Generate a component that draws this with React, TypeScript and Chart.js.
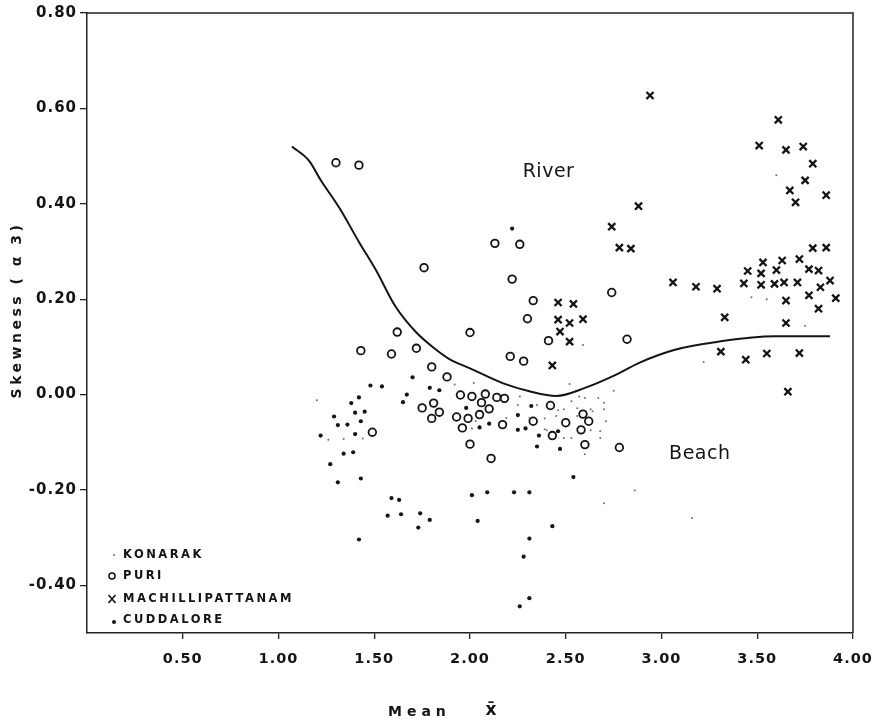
import React, { useEffect, useRef } from "react";
import { Chart, registerables } from "chart.js";

Chart.register(...registerables);

// ---------- data ----------
const xTickValues = [0.5, 1.0, 1.5, 2.0, 2.5, 3.0, 3.5, 4.0];
const yTickValues = [-0.4, -0.2, 0.0, 0.2, 0.4, 0.6, 0.8];

const konarak: [number, number][] = [
  [1.20, -0.012], [1.26, -0.095], [1.34, -0.093], [1.44, -0.092], [1.92, 0.021],
  [2.02, 0.024], [2.52, 0.022], [2.70, -0.017], [2.70, -0.031], [2.71, -0.056],
  [2.68, -0.077], [2.68, -0.091], [2.53, -0.091], [2.49, -0.091], [2.60, -0.125],
  [2.70, -0.228], [2.01, -0.071], [2.19, -0.049], [2.26, -0.004], [2.31, -0.049],
  [2.39, -0.073], [2.49, -0.031], [2.46, -0.033], [2.56, -0.045], [2.64, -0.035],
  [2.67, -0.007], [2.57, -0.004], [2.60, -0.007], [2.53, -0.014], [2.86, -0.201],
  [2.75, 0.008], [2.56, -0.029], [2.63, -0.031], [2.39, -0.050], [2.45, -0.045],
  [2.40, -0.075], [2.63, -0.075], [3.60, 0.460], [3.47, 0.204], [3.55, 0.200],
  [3.75, 0.144], [3.22, 0.068], [2.59, 0.104], [3.16, -0.259], [2.03, -0.056],
  [2.25, -0.022], [2.35, -0.022],
];

const puri: [number, number][] = [
  [1.30, 0.486], [1.42, 0.481], [2.13, 0.317], [2.26, 0.315], [1.76, 0.266],
  [2.22, 0.242], [2.33, 0.197], [2.30, 0.159], [2.41, 0.113], [1.62, 0.131],
  [2.00, 0.130], [1.43, 0.092], [1.59, 0.085], [1.72, 0.097], [1.80, 0.058],
  [2.21, 0.080], [2.28, 0.070], [2.74, 0.214], [2.82, 0.116], [1.88, 0.037],
  [1.95, -0.001], [2.01, -0.004], [2.08, 0.001], [2.14, -0.006], [2.18, -0.008],
  [1.75, -0.028], [1.81, -0.018], [1.84, -0.037], [1.80, -0.050], [1.93, -0.047],
  [1.99, -0.050], [1.96, -0.070], [2.06, -0.017], [2.10, -0.030], [2.05, -0.042],
  [2.17, -0.063], [2.00, -0.104], [2.11, -0.134], [2.42, -0.023], [2.33, -0.056],
  [2.50, -0.059], [2.43, -0.086], [1.49, -0.079], [2.59, -0.041], [2.62, -0.056],
  [2.58, -0.074], [2.60, -0.105], [2.78, -0.111],
];

const machillipattanam: [number, number][] = [
  [2.94, 0.627], [3.61, 0.576], [3.51, 0.522], [3.65, 0.513], [3.74, 0.520],
  [3.79, 0.484], [3.75, 0.449], [3.67, 0.428], [3.70, 0.403], [3.86, 0.418],
  [2.88, 0.395], [2.74, 0.352], [2.78, 0.308], [2.84, 0.306], [3.06, 0.235],
  [3.18, 0.226], [3.29, 0.222], [3.33, 0.162], [2.46, 0.193], [2.54, 0.190],
  [2.46, 0.157], [2.52, 0.150], [2.59, 0.158], [2.47, 0.132], [2.52, 0.111],
  [2.43, 0.061], [3.79, 0.307], [3.86, 0.308], [3.53, 0.277], [3.63, 0.281],
  [3.72, 0.284], [3.45, 0.259], [3.52, 0.254], [3.60, 0.261], [3.77, 0.263],
  [3.82, 0.260], [3.43, 0.233], [3.52, 0.230], [3.59, 0.232], [3.64, 0.235],
  [3.71, 0.235], [3.88, 0.239], [3.83, 0.225], [3.77, 0.208], [3.91, 0.202],
  [3.65, 0.197], [3.82, 0.180], [3.65, 0.150], [3.31, 0.090], [3.44, 0.073],
  [3.55, 0.086], [3.72, 0.087], [3.66, 0.006],
];

const cuddalore: [number, number][] = [
  [2.22, 0.348], [1.70, 0.036], [1.48, 0.019], [1.54, 0.017], [1.67, 0.000],
  [1.65, -0.016], [1.79, 0.014], [1.84, 0.009], [1.42, -0.006], [1.38, -0.018],
  [1.40, -0.038], [1.45, -0.036], [1.29, -0.046], [1.31, -0.064], [1.36, -0.063],
  [1.43, -0.056], [1.40, -0.083], [1.22, -0.086], [1.34, -0.124], [1.39, -0.121],
  [1.27, -0.146], [1.31, -0.184], [1.43, -0.176], [1.59, -0.217], [1.63, -0.221],
  [1.57, -0.254], [1.64, -0.251], [1.74, -0.249], [1.79, -0.263], [1.73, -0.279],
  [1.42, -0.304], [2.10, -0.061], [2.05, -0.069], [2.25, -0.043], [2.25, -0.074],
  [2.29, -0.071], [2.32, -0.024], [2.36, -0.086], [2.35, -0.109], [2.46, -0.077],
  [2.47, -0.114], [2.54, -0.173], [2.01, -0.211], [2.09, -0.205], [2.23, -0.205],
  [2.31, -0.205], [2.04, -0.265], [2.43, -0.276], [2.31, -0.302], [2.28, -0.340],
  [2.31, -0.427], [2.26, -0.444], [1.98, -0.028],
];

const boundaryCurve: [number, number][] = [
  [1.07, 0.52], [1.16, 0.49], [1.22, 0.45], [1.32, 0.39], [1.42, 0.32],
  [1.51, 0.26], [1.61, 0.185], [1.72, 0.13], [1.82, 0.095], [1.89, 0.075],
  [2.00, 0.055], [2.17, 0.024], [2.31, 0.007], [2.45, -0.003], [2.60, 0.014],
  [2.78, 0.045], [2.88, 0.066], [3.07, 0.094], [3.30, 0.111], [3.59, 0.122],
  [3.88, 0.122],
];

const legendLabels = ["KONARAK", "PURI", "MACHILLIPATTANAM", "CUDDALORE"];
const regionLabels: { text: string; x: number; y: number }[] = [
  { text: "River", x: 2.41, y: 0.466 },
  { text: "Beach", x: 3.2, y: -0.125 },
];
const xTitle = "Mean";
const xBarSymbol = "x\u0304";
const yTitle = "Skewness ( \u03b1 3)";

const FONT = '"DejaVu Sans", sans-serif';
const INK = "#141414";

const toPts = (arr: [number, number][]) => arr.map(([x, y]) => ({ x, y }));

const decor = {
  id: "decor",
  beforeDraw(chart: any) {
    chart.ctx.letterSpacing = "1px";
  },
  afterDraw(chart: any) {
    const { ctx, chartArea: a, scales } = chart;
    ctx.save();
    // top & right frame lines
    ctx.strokeStyle = "#222";
    ctx.lineWidth = 1.5;
    ctx.beginPath();
    ctx.moveTo(a.left, a.top);
    ctx.lineTo(a.right, a.top);
    ctx.lineTo(a.right, a.bottom);
    ctx.stroke();

    // region labels
    ctx.fillStyle = INK;
    ctx.letterSpacing = "0.5px";
    ctx.font = `19px ${FONT}`;
    ctx.textAlign = "center";
    ctx.textBaseline = "middle";
    for (const r of regionLabels) {
      ctx.fillText(r.text, scales.x.getPixelForValue(r.x), scales.y.getPixelForValue(r.y));
    }

    // y title
    ctx.save();
    ctx.translate(17, 310);
    ctx.rotate(-Math.PI / 2);
    ctx.font = `bold 14px ${FONT}`;
    ctx.letterSpacing = "3.5px";
    ctx.textAlign = "center";
    ctx.fillText(yTitle, 0, 0);
    ctx.restore();

    // x title
    ctx.font = `bold 14px ${FONT}`;
    ctx.letterSpacing = "5px";
    ctx.textAlign = "left";
    ctx.fillText(xTitle, 388, 712);
    ctx.letterSpacing = "0px";
    ctx.font = `bold 17px ${FONT}`;
    ctx.textAlign = "center";
    ctx.fillText(xBarSymbol, 491, 711);

    // legend
    const rows = [555, 576, 599, 620];
    const symX = a.left + 25;
    const txtX = a.left + 36;
    ctx.font = `bold 11.5px ${FONT}`;
    ctx.letterSpacing = "2.5px";
    ctx.textAlign = "left";
    legendLabels.forEach((lab, i) => {
      const y = rows[i];
      ctx.fillText(lab, txtX, y);
      ctx.beginPath();
      if (i === 0) {
        ctx.fillStyle = "#666";
        ctx.arc(symX + 2, y, 1, 0, Math.PI * 2);
        ctx.fill();
        ctx.fillStyle = INK;
      } else if (i === 1) {
        ctx.strokeStyle = INK;
        ctx.lineWidth = 1.5;
        ctx.arc(symX, y, 3, 0, Math.PI * 2);
        ctx.stroke();
      } else if (i === 2) {
        ctx.strokeStyle = INK;
        ctx.lineWidth = 1.6;
        ctx.moveTo(symX - 3.5, y - 4);
        ctx.lineTo(symX + 3.5, y + 4);
        ctx.moveTo(symX + 3.5, y - 4);
        ctx.lineTo(symX - 3.5, y + 4);
        ctx.stroke();
      } else {
        ctx.arc(symX + 2, y + 2, 2, 0, Math.PI * 2);
        ctx.fill();
      }
    });
    ctx.restore();
  },
};

export default function App() {
  const ref = useRef<HTMLCanvasElement | null>(null);

  useEffect(() => {
    if (!ref.current) return;
    const chart = new Chart(ref.current, {
      type: "scatter",
      data: {
        datasets: [
          {
            label: "KONARAK",
            data: toPts(konarak),
            pointStyle: "circle",
            pointRadius: 1,
            pointBackgroundColor: "#707070",
            pointBorderWidth: 0,
          },
          {
            label: "Boundary",
            data: toPts(boundaryCurve),
            showLine: true,
            borderColor: INK,
            borderWidth: 2,
            pointRadius: 0,
            cubicInterpolationMode: "monotone",
          },
          {
            label: "PURI",
            data: toPts(puri),
            pointStyle: "circle",
            pointRadius: 3.8,
            pointBackgroundColor: "rgba(0,0,0,0)",
            pointBorderColor: INK,
            pointBorderWidth: 1.8,
          },
          {
            label: "MACHILLIPATTANAM",
            data: toPts(machillipattanam),
            pointStyle: "crossRot",
            pointRadius: 5,
            pointBorderColor: INK,
            pointBorderWidth: 2.3,
          },
          {
            label: "CUDDALORE",
            data: toPts(cuddalore),
            pointStyle: "circle",
            pointRadius: 2.1,
            pointBackgroundColor: INK,
            pointBorderWidth: 0,
          },
        ],
      },
      options: {
        responsive: false,
        animation: false,
        devicePixelRatio: 1,
        layout: { padding: { left: 0, top: 13, right: 20, bottom: 0 } },
        plugins: { legend: { display: false }, tooltip: { enabled: false } },
        scales: {
          x: {
            type: "linear",
            min: 0,
            max: 4,
            afterBuildTicks: (s: any) => {
              s.ticks = xTickValues.map((v) => ({ value: v }));
            },
            afterFit: (s: any) => {
              s.height = 91;
              s.paddingLeft = 0;
              s.paddingRight = 0;
            },
            ticks: {
              color: INK,
              font: { family: FONT, size: 14.5, weight: "bold" },
              padding: 12,
              maxRotation: 0,
              autoSkip: false,
              callback: (v: any) => Number(v).toFixed(2),
            },
            grid: { drawOnChartArea: false, drawTicks: true, tickLength: 6, color: "#222", lineWidth: 1.3 },
            border: { display: true, color: "#222", width: 1.5 },
          },
          y: {
            type: "linear",
            min: -0.5,
            max: 0.8,
            afterBuildTicks: (s: any) => {
              s.ticks = yTickValues.map((v) => ({ value: v }));
            },
            afterFit: (s: any) => {
              s.width = 87;
              s.paddingTop = 0;
              s.paddingBottom = 0;
            },
            ticks: {
              color: INK,
              font: { family: FONT, size: 15, weight: "bold" },
              padding: 3,
              autoSkip: false,
              callback: (v: any) => Number(v).toFixed(2),
            },
            grid: { drawOnChartArea: false, drawTicks: true, tickLength: 7, color: "#222", lineWidth: 1.3 },
            border: { display: true, color: "#222", width: 1.5 },
          },
        },
      },
      plugins: [decor],
    } as any);
    return () => chart.destroy();
  }, []);

  return (
    <div style={{ position: "absolute", left: 0, top: 0, width: 873, height: 724, background: "#fff" }}>
      <canvas ref={ref} width={873} height={724} style={{ display: "block", width: 873, height: 724 }} />
    </div>
  );
}
